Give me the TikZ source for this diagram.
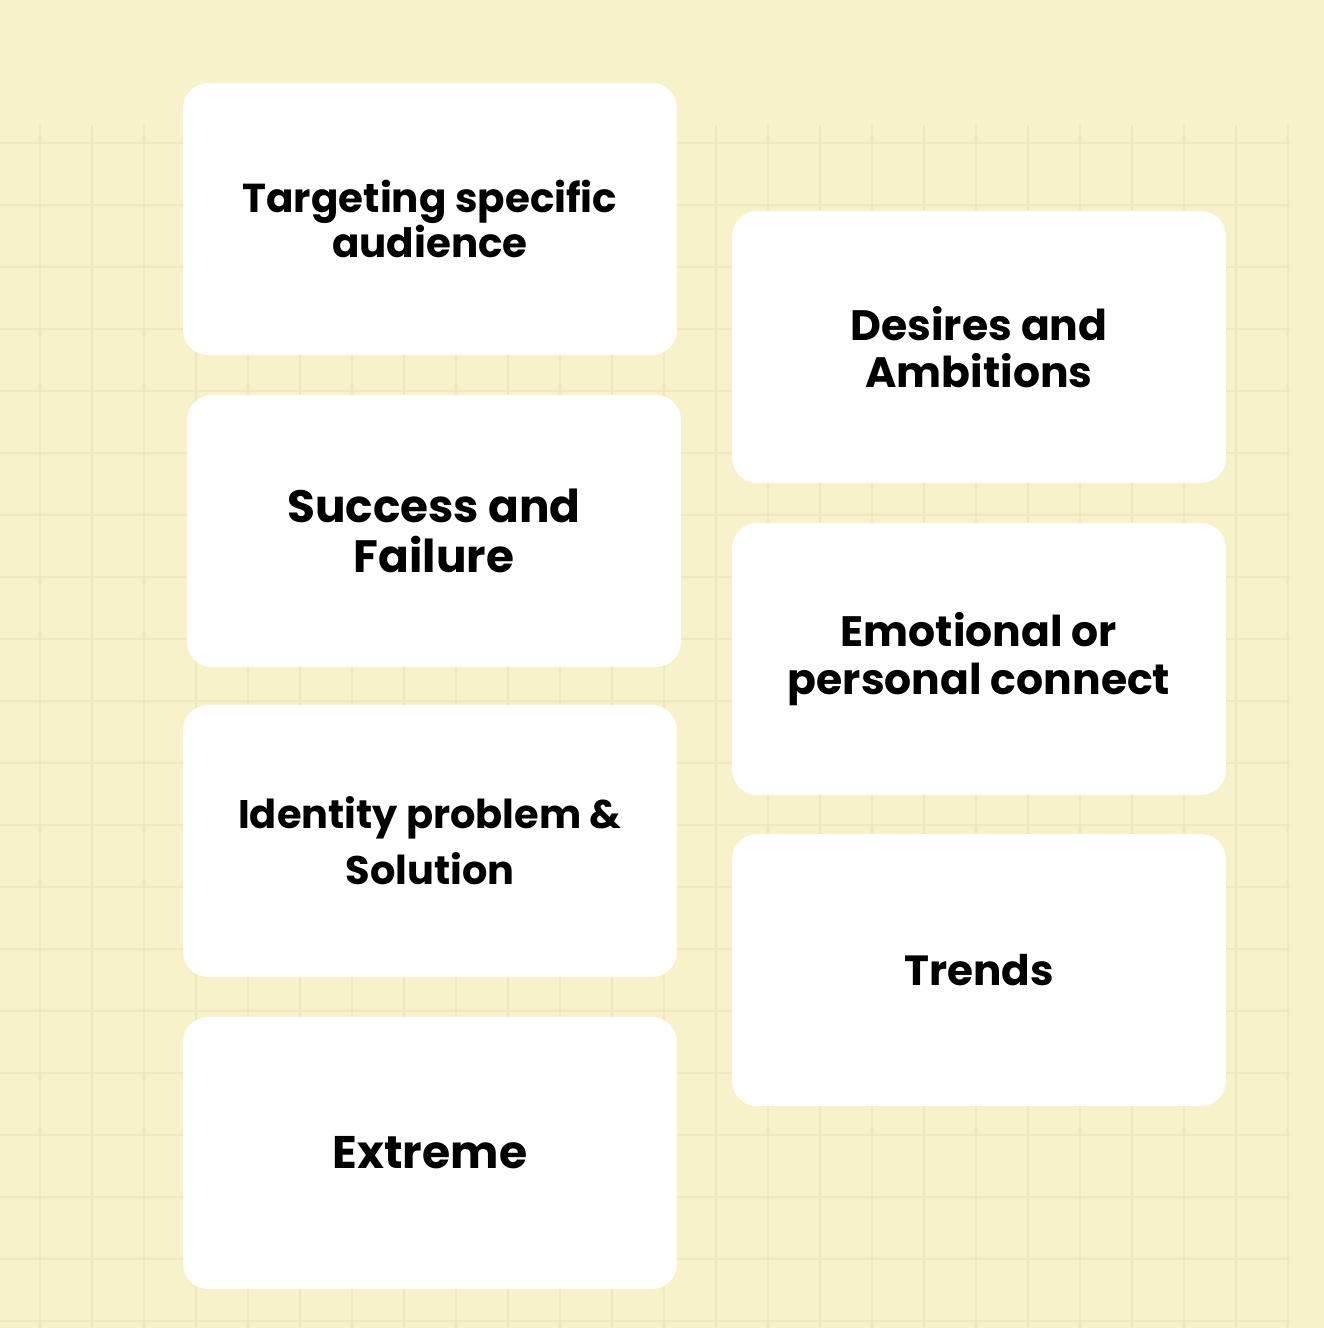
\documentclass[tikz,border=0pt]{standalone}
\usepackage{fontspec}
\setmainfont{Poppins}
\usetikzlibrary{positioning}
\definecolor{paper}{RGB}{247,242,202}
\definecolor{gridline}{RGB}{239,231,190}
\newcommand\cardfont[2]{\bfseries\fontsize{#1}{#2}\selectfont}

\begin{document}
\begin{tikzpicture}[x=0.02cm, y=-0.02cm,
        card/.style={fill=white,rounded corners=0.5cm,minimum width=9.88cm,minimum height=5.44cm,
                     align=center,text=black}]
        \fill[paper] (0,0) rectangle (1324,1328);
        \useasboundingbox (0,0) rectangle (1324,1328);
        % faint grid behind the cards
        \foreach \gx in {40,92,...,1300}
          \draw[gridline,line width=0.6pt] (\gx,125) -- (\gx,1328);
        \foreach \gy in {143,205,...,1328}
          \draw[gridline,line width=0.6pt] (0,\gy) -- (1290,\gy);
        \node[card,font=\cardfont{23pt}{25.5pt}] at (430,219) (target) {Targeting specific\\audience};
        \node[card,font=\cardfont{25.8pt}{28.5pt}] at (434,531) (success) {Success and\\Failure};
        \node[card,font=\cardfont{22.7pt}{32pt}] at (430,841) (identity) {Identity problem \&\\Solution};
        \node[card,font=\cardfont{26pt}{28pt}] at (430,1153) (extreme) {Extreme};
        \node[card,font=\cardfont{24.2pt}{26.5pt}] at (979,347) (desires) {Desires and\\Ambitions};
        \node[card,font=\cardfont{24.2pt}{27pt}] at (979,659) (emotion) {Emotional or\\personal connect};
        \node[card,font=\cardfont{24pt}{26pt}] at (979,970) (trends) {Trends};
      \end{tikzpicture}
\end{document}
